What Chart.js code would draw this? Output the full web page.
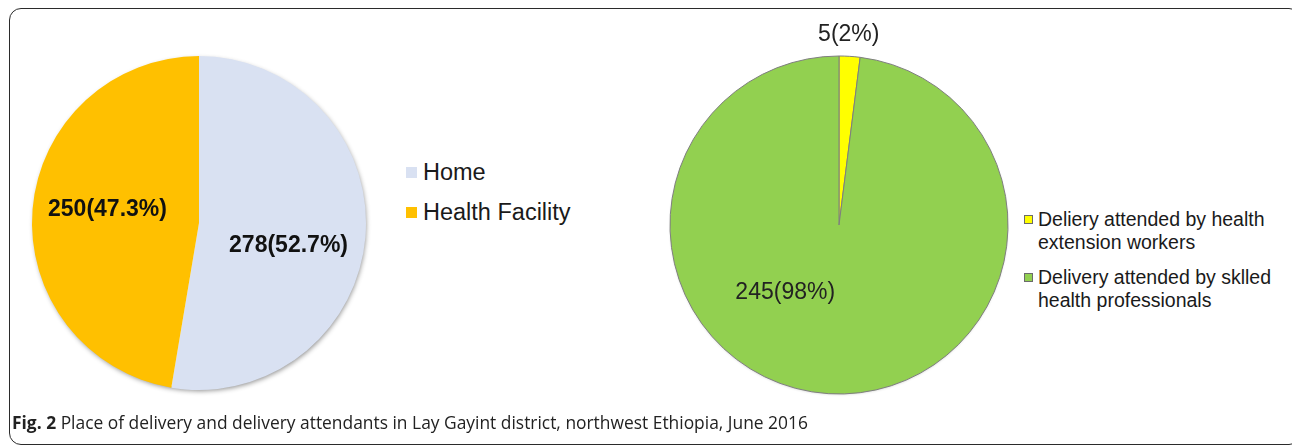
<!DOCTYPE html>
<html>
<head>
<meta charset="utf-8">
<script src="https://cdn.jsdelivr.net/npm/chart.js@4.4.0/dist/chart.umd.min.js"></script>
<style>
	body { margin: 0; width: 1292px; height: 447px; background: #fff; position: relative; overflow: hidden; font-family: "Liberation Sans", Arial, sans-serif; color: #1a1a1a; }
	.frame { position: absolute; left: 9px; top: 8px; width: 1292px; height: 437px; border: 1.5px solid #2b2b2b; border-radius: 12px; box-sizing: border-box; }
	.chart-box { position: absolute; }
	.legend { position: absolute; }
	.legend-left .item { position: absolute; left: 0; white-space: nowrap; font-size: 23.5px; line-height: 26px; }
	.legend-left .sw { position: absolute; left: -17px; top: 8px; width: 11px; height: 11px; }
	.legend-right .item { position: absolute; left: 0; width: 270px; font-size: 19.5px; line-height: 23px; }
	.legend-right .sw { position: absolute; left: -14px; top: 7px; width: 7px; height: 7px; border: 1px solid #6b6b6b; }
	.caption { position: absolute; left: 12px; top: 410px; font-family: "Open Sans", sans-serif; font-size: 17.4px; color: #222; white-space: nowrap; }
	.caption b { font-weight: 700; }
</style>
</head>
<body>
<div class="frame"></div>

<div class="chart-box" style="left:19px; top:43px; width:360px; height:360px;"><canvas id="placeChart"></canvas></div>
<div class="legend legend-left" id="placeLegend" style="left:423px; top:159px;"></div>

<div class="chart-box" style="left:659px; top:15px; width:360px; height:420px;"><canvas id="attendantChart"></canvas></div>
<div class="legend legend-right" id="attendantLegend" style="left:1038px; top:208px;"></div>

<div class="caption"><b>Fig. 2</b> Place of delivery and delivery attendants in Lay Gayint district, northwest Ethiopia, June 2016</div>

<script>
// 분만 장소 데이터
const placeLabels = ['Home', 'Health Facility'];
const placeValues = [278, 250];
const placeColors = ['#d9e1f2', '#ffc000'];

// 분만 조력자 데이터
const attendantLabels = ['Deliery attended by health extension workers', 'Delivery attended by sklled health professionals'];
const attendantValues = [5, 245];
const attendantColors = ['#ffff00', '#92d050'];

// 조각 라벨: 값(퍼센트)
const sliceLabels = {
	id: 'sliceLabels',
	afterDatasetsDraw(chart, args, opts) {
		const ctx = chart.ctx;
		const meta = chart.getDatasetMeta(0);
		const values = chart.data.datasets[0].data;
		const total = values.reduce((a, b) => a + b, 0);
		meta.data.forEach((arc, i) => {
			const p = arc.getProps(['x', 'y', 'startAngle', 'endAngle', 'outerRadius'], true);
			const mid = (p.startAngle + p.endAngle) / 2;
			const r = p.outerRadius * opts.radius[i];
			const x = p.x + Math.cos(mid) * r + opts.dx[i];
			const y = p.y + Math.sin(mid) * r + opts.dy[i];
			const pct = (values[i] / total * 100).toFixed(opts.decimals);
			ctx.save();
			ctx.font = opts.font;
			ctx.fillStyle = opts.color;
			ctx.textAlign = 'center';
			ctx.textBaseline = 'middle';
			ctx.fillText(`${values[i]}(${pct}%)`, x, y);
			ctx.restore();
		});
	}
};

// 파이 아래 그림자 (원 하나로)
const pieShadow = {
	id: 'pieShadow',
	beforeDatasetsDraw(chart, args, opts) {
		const arc = chart.getDatasetMeta(0).data[0];
		if (!arc) return;
		const p = arc.getProps(['x', 'y', 'outerRadius'], true);
		const ctx = chart.ctx;
		ctx.save();
		ctx.shadowColor = opts.color;
		ctx.shadowBlur = opts.blur;
		ctx.shadowOffsetX = opts.offsetX;
		ctx.shadowOffsetY = opts.offsetY;
		ctx.beginPath();
		ctx.arc(p.x, p.y, p.outerRadius - 1, 0, Math.PI * 2);
		ctx.fillStyle = '#ffffff';
		ctx.fill();
		ctx.restore();
	}
};

function makePie(id, labels, values, colors, extra) {
	return new Chart(document.getElementById(id), {
		type: 'pie',
		data: {
			labels: labels,
			datasets: [{
				data: values,
				backgroundColor: colors,
				borderColor: extra.borderColor,
				borderWidth: extra.borderWidth,
				radius: extra.radius
			}]
		},
		options: {
			responsive: true,
			maintainAspectRatio: false,
			animation: false,
			events: [],
			layout: { padding: 0 },
			plugins: {
				legend: { display: false },
				tooltip: { enabled: false },
				sliceLabels: extra.labels,
				pieShadow: extra.shadow
			}
		},
		plugins: [pieShadow, sliceLabels]
	});
}

makePie('placeChart', placeLabels, placeValues, placeColors, {
	borderColor: 'rgba(0,0,0,0)',
	borderWidth: 0,
	radius: 167,
	shadow: { color: 'rgba(0,0,0,0.45)', blur: 5, offsetX: 1, offsetY: 2 },
	labels: {
		font: 'bold 23px "Liberation Sans", Arial, sans-serif',
		color: '#111',
		decimals: 1,
		radius: [0.55, 0.55],
		dx: [-2, 0],
		dy: [15, -6]
	}
});

makePie('attendantChart', attendantLabels, attendantValues, attendantColors, {
	borderColor: '#7f7f7f',
	borderWidth: 1,
	radius: 169,
	shadow: { color: 'rgba(0,0,0,0.3)', blur: 3, offsetX: 0, offsetY: 1 },
	labels: {
		font: '23px "Liberation Sans", Arial, sans-serif',
		color: '#222',
		decimals: 0,
		radius: [1.11, 0.45],
		dx: [-2, -49],
		dy: [-3, -8]
	}
});

// HTML 범례
function buildLegend(elId, labels, colors, rowTops) {
	const box = document.getElementById(elId);
	labels.forEach((label, i) => {
		const item = document.createElement('div');
		item.className = 'item';
		item.style.top = rowTops[i] + 'px';
		item.innerHTML = `<span class="sw" style="background:${colors[i]}"></span>${label}`;
		box.appendChild(item);
	});
}

buildLegend('placeLegend', placeLabels, placeColors, [0, 40]);
buildLegend('attendantLegend', attendantLabels, attendantColors, [0, 58]);
</script>
</body>
</html>
